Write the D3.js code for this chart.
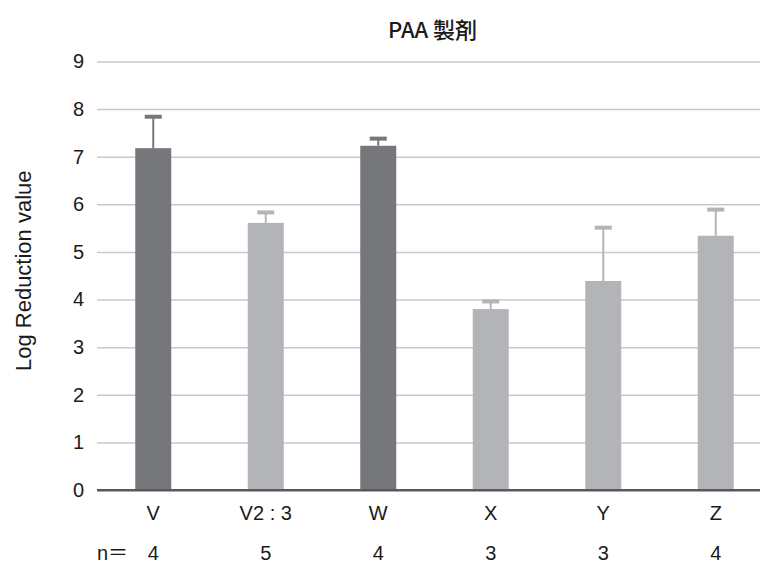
<!DOCTYPE html>
<html>
<head>
<meta charset="utf-8">
<script src="https://cdn.jsdelivr.net/npm/d3@7/dist/d3.min.js"></script>
<style>
  html, body { margin: 0; padding: 0; background: #fff; }
  svg { display: block; }
  text { font-family: "Liberation Sans", Arial, Helvetica, "Noto Sans CJK JP", sans-serif; fill: #1a1a1a; }
</style>
</head>
<body>
<svg id="chart" width="760" height="564"></svg>
<script>
// Log reduction per formulation (mean, upper SD), sample sizes and bar group
const categories = ["V", "V2 : 3", "W", "X", "Y", "Z"];
const means      = [7.18, 5.61, 7.23, 3.80, 4.39, 5.34];
const sds        = [0.66, 0.22, 0.15, 0.16, 1.12, 0.55];
const sampleN    = [4, 5, 4, 3, 3, 4];
const groups     = ["dark", "light", "dark", "light", "light", "light"];
const yTicks     = [0, 1, 2, 3, 4, 5, 6, 7, 8, 9];
const title      = "PAA 製剤";
const yLabel     = "Log Reduction value";
const nPrefix    = "n＝";

const colors = { dark: "#76777b", light: "#b3b4b8" };

const svg = d3.select("#chart");
const W = 760;
const plot = { left: 97, right: 772, top: 61.5, bottom: 490 };

const data = categories.map((c, i) => ({
  cat: c, mean: means[i], sd: sds[i], n: sampleN[i], group: groups[i]
}));

const x = d3.scaleBand()
  .domain(categories)
  .range([plot.left, plot.right])
  .paddingInner(0.68)
  .paddingOuter(0.34);

const y = d3.scaleLinear()
  .domain([0, 9])
  .range([plot.bottom, plot.top]);

// horizontal gridlines
const yAxis = d3.axisLeft(y)
  .tickValues(yTicks)
  .tickFormat(d3.format("d"))
  .tickSize(-(W - plot.left))
  .tickPadding(13);

const gy = svg.append("g")
  .attr("transform", `translate(${plot.left},0)`)
  .call(yAxis);
gy.select(".domain").remove();
gy.selectAll(".tick line")
  .attr("stroke", d => d === 0 ? "#58585c" : "#c9c9cb")
  .attr("stroke-width", d => d === 0 ? 2 : 1.5);
gy.selectAll(".tick text")
  .style("font-size", "20px")
  .attr("fill", "#1a1a1a");

// bars
svg.append("g").selectAll("rect")
  .data(data)
  .join("rect")
  .attr("x", d => x(d.cat))
  .attr("width", x.bandwidth())
  .attr("y", d => y(d.mean))
  .attr("height", d => y(0) - y(d.mean))
  .attr("fill", d => colors[d.group]);

// upper error bars
const err = svg.append("g").selectAll("g")
  .data(data)
  .join("g")
  .attr("transform", d => `translate(${x(d.cat) + x.bandwidth() / 2},0)`);

err.append("line")
  .attr("y1", d => y(d.mean))
  .attr("y2", d => y(d.mean + d.sd))
  .attr("stroke", d => colors[d.group])
  .attr("stroke-width", 2);

err.append("rect")
  .attr("x", -8.5)
  .attr("width", 17)
  .attr("y", d => y(d.mean + d.sd) - 2)
  .attr("height", 4)
  .attr("fill", d => colors[d.group]);

// bottom axis line over bars
svg.append("line")
  .attr("x1", plot.left).attr("x2", W)
  .attr("y1", y(0)).attr("y2", y(0))
  .attr("stroke", "#58585c")
  .attr("stroke-width", 2);

// category labels
svg.append("g").selectAll("text")
  .data(data)
  .join("text")
  .attr("x", d => x(d.cat) + x.bandwidth() / 2)
  .attr("y", 520)
  .attr("text-anchor", "middle")
  .style("font-size", "20px")
  .text(d => d.cat);

// sample sizes
svg.append("g").selectAll("text")
  .data(data)
  .join("text")
  .attr("x", d => x(d.cat) + x.bandwidth() / 2)
  .attr("y", 560)
  .attr("text-anchor", "middle")
  .style("font-size", "20px")
  .text(d => d.n);

svg.append("text")
  .attr("x", plot.left)
  .attr("y", 560)
  .style("font-size", "20px")
  .text(nPrefix);

// title
svg.append("text")
  .attr("x", (plot.left + plot.right) / 2 - 2)
  .attr("y", 38)
  .attr("text-anchor", "middle")
  .style("font-family", "'Noto Sans CJK JP', 'Liberation Sans', sans-serif")
  .style("font-size", "22px")
  .style("font-weight", 500)
  .text(title);

// y axis title
svg.append("text")
  .attr("transform", `translate(31,${(plot.top + plot.bottom) / 2 - 5}) rotate(-90)`)
  .attr("text-anchor", "middle")
  .style("font-size", "22px")
  .text(yLabel);
</script>
</body>
</html>
